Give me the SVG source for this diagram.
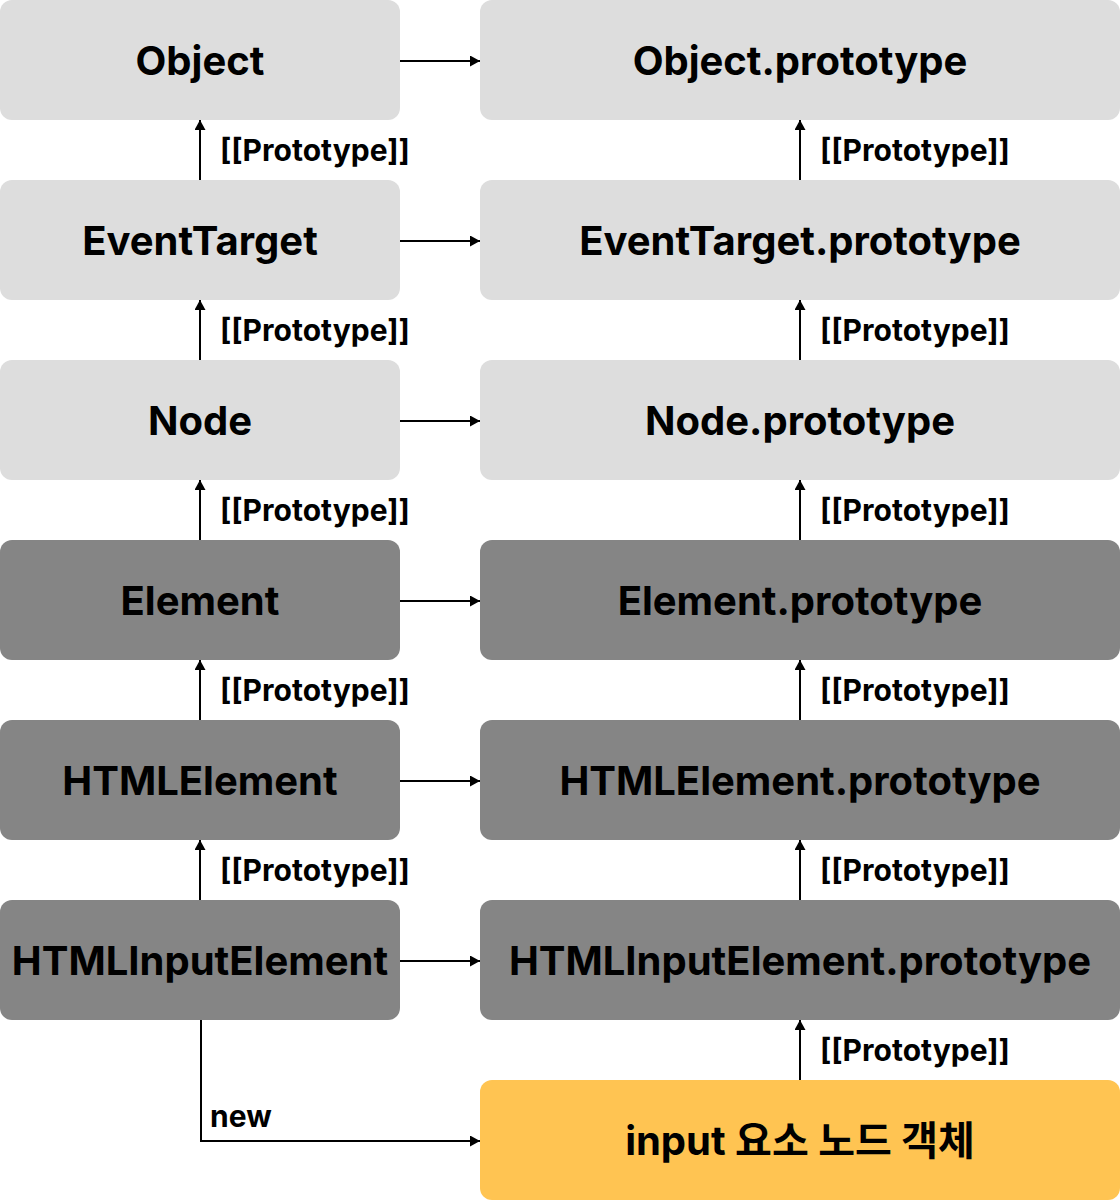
<svg xmlns="http://www.w3.org/2000/svg" width="1120" height="1200" viewBox="0 0 1120 1200">
<style>
.light{fill:#dddddd}
.dark{fill:#858585}
.yel{fill:#ffc452}
.t{font-family:Inter,"Noto Sans","Noto Sans CJK KR",sans-serif;font-weight:700;font-size:40px;fill:#000;text-anchor:middle}
.l{font-family:Inter,"Noto Sans",sans-serif;font-weight:700;font-size:30px;fill:#000}
.c{stroke:#000;stroke-width:2;fill:none}
</style>
<defs>
<marker id="ah" viewBox="0 0 10 11" refX="10" refY="5.5" markerWidth="10" markerHeight="11" markerUnits="userSpaceOnUse" orient="auto">
<path d="M0,0 L10,5.5 L0,11 Z" fill="#000"/>
</marker>
</defs>
<g id="connectors" class="c">
<line x1="400" y1="61" x2="480" y2="61" marker-end="url(#ah)"/>
<line x1="400" y1="241" x2="480" y2="241" marker-end="url(#ah)"/>
<line x1="400" y1="421" x2="480" y2="421" marker-end="url(#ah)"/>
<line x1="400" y1="601" x2="480" y2="601" marker-end="url(#ah)"/>
<line x1="400" y1="781" x2="480" y2="781" marker-end="url(#ah)"/>
<line x1="400" y1="961" x2="480" y2="961" marker-end="url(#ah)"/>
<line x1="200" y1="180" x2="200" y2="120" marker-end="url(#ah)"/>
<line x1="200" y1="360" x2="200" y2="300" marker-end="url(#ah)"/>
<line x1="200" y1="540" x2="200" y2="480" marker-end="url(#ah)"/>
<line x1="200" y1="720" x2="200" y2="660" marker-end="url(#ah)"/>
<line x1="200" y1="900" x2="200" y2="840" marker-end="url(#ah)"/>
<line x1="800" y1="180" x2="800" y2="120" marker-end="url(#ah)"/>
<line x1="800" y1="360" x2="800" y2="300" marker-end="url(#ah)"/>
<line x1="800" y1="540" x2="800" y2="480" marker-end="url(#ah)"/>
<line x1="800" y1="720" x2="800" y2="660" marker-end="url(#ah)"/>
<line x1="800" y1="900" x2="800" y2="840" marker-end="url(#ah)"/>
<line x1="800" y1="1080" x2="800" y2="1020" marker-end="url(#ah)"/>
<polyline points="201,1020 201,1141 480,1141" marker-end="url(#ah)"/>
</g>
<g id="labels">
<text class="l" x="220" y="161">[[Prototype]]</text>
<text class="l" x="220" y="341">[[Prototype]]</text>
<text class="l" x="220" y="521">[[Prototype]]</text>
<text class="l" x="220" y="701">[[Prototype]]</text>
<text class="l" x="220" y="881">[[Prototype]]</text>
<text class="l" x="820" y="161">[[Prototype]]</text>
<text class="l" x="820" y="341">[[Prototype]]</text>
<text class="l" x="820" y="521">[[Prototype]]</text>
<text class="l" x="820" y="701">[[Prototype]]</text>
<text class="l" x="820" y="881">[[Prototype]]</text>
<text class="l" x="820" y="1061">[[Prototype]]</text>
<text class="l" x="210" y="1127">new</text>
</g>
<g id="object"><rect class="light" x="0" y="0" width="400" height="120" rx="12"/><text class="t" x="200" y="75">Object</text></g>
<g id="object-prototype"><rect class="light" x="480" y="0" width="640" height="120" rx="12"/><text class="t" x="800" y="75">Object.prototype</text></g>
<g id="eventtarget"><rect class="light" x="0" y="180" width="400" height="120" rx="12"/><text class="t" x="200" y="255">EventTarget</text></g>
<g id="eventtarget-prototype"><rect class="light" x="480" y="180" width="640" height="120" rx="12"/><text class="t" x="800" y="255">EventTarget.prototype</text></g>
<g id="node"><rect class="light" x="0" y="360" width="400" height="120" rx="12"/><text class="t" x="200" y="435">Node</text></g>
<g id="node-prototype"><rect class="light" x="480" y="360" width="640" height="120" rx="12"/><text class="t" x="800" y="435">Node.prototype</text></g>
<g id="element"><rect class="dark" x="0" y="540" width="400" height="120" rx="12"/><text class="t" x="200" y="615">Element</text></g>
<g id="element-prototype"><rect class="dark" x="480" y="540" width="640" height="120" rx="12"/><text class="t" x="800" y="615">Element.prototype</text></g>
<g id="htmlelement"><rect class="dark" x="0" y="720" width="400" height="120" rx="12"/><text class="t" x="200" y="795">HTMLElement</text></g>
<g id="htmlelement-prototype"><rect class="dark" x="480" y="720" width="640" height="120" rx="12"/><text class="t" x="800" y="795">HTMLElement.prototype</text></g>
<g id="htmlinputelement"><rect class="dark" x="0" y="900" width="400" height="120" rx="12"/><text class="t" x="200" y="975">HTMLInputElement</text></g>
<g id="htmlinputelement-prototype"><rect class="dark" x="480" y="900" width="640" height="120" rx="12"/><text class="t" x="800" y="975">HTMLInputElement.prototype</text></g>
<g id="input-node"><rect class="yel" x="480" y="1080" width="640" height="120" rx="12"/><text class="t" x="800" y="1155">input 요소 노드 객체</text></g>
</svg>
